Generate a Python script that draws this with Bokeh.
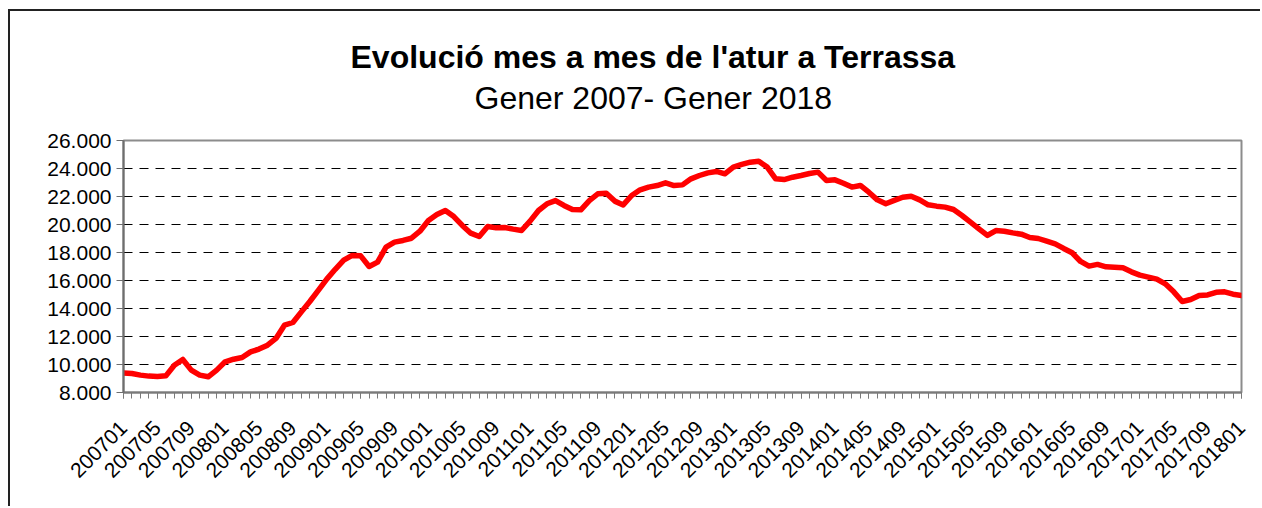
from bokeh.plotting import figure
from bokeh.models import Range1d, FixedTicker, Title
from bokeh.embed import file_html
from bokeh.resources import INLINE

# ---- data -------------------------------------------------------------
title_text = "Evolució mes a mes de l'atur a Terrassa"
subtitle_text = "Gener 2007- Gener 2018"

# monthly registered unemployment, Jan 2007 .. Jan 2018 (133 months)
aturats = [
    9400, 9360, 9240, 9170, 9140, 9190, 9950, 10360, 9600, 9240, 9120, 9600,
    10190, 10380, 10500, 10900, 11100, 11380, 11860, 12810, 13000, 13760, 14500, 15300,
    16100, 16800, 17450, 17790, 17760, 17000, 17310, 18380, 18740, 18860, 19020, 19520,
    20290, 20710, 21000, 20570, 19930, 19380, 19140, 19860, 19760, 19790, 19670, 19570,
    20240, 21000, 21480, 21710, 21360, 21070, 21050, 21710, 22190, 22240, 21670, 21400,
    22070, 22480, 22670, 22780, 22980, 22780, 22830, 23260, 23500, 23690, 23790, 23620,
    24100, 24290, 24450, 24520, 24100, 23260, 23210, 23380, 23500, 23640, 23740, 23140,
    23190, 22950, 22670, 22790, 22310, 21760, 21480, 21720, 21950, 22020, 21760, 21410,
    21310, 21240, 21070, 20640, 20170, 19690, 19220, 19570, 19520, 19400, 19310, 19070,
    19000, 18810, 18620, 18290, 17980, 17360, 17030, 17150, 16980, 16950, 16910, 16620,
    16380, 16240, 16100, 15760, 15190, 14500, 14640, 14930, 14970, 15160, 15190, 15020,
    14930,
]

x_tick_labels = [
    "200701", "200705", "200709", "200801", "200805", "200809", "200901", "200905",
    "200909", "201001", "201005", "201009", "201101", "201105", "201109", "201201",
    "201205", "201209", "201301", "201305", "201309", "201401", "201405", "201409",
    "201501", "201505", "201509", "201601", "201605", "201609", "201701", "201705",
    "201709", "201801",
]
label_step = 4  # one label every 4 months

y_ticks = [8000, 10000, 12000, 14000, 16000, 18000, 20000, 22000, 24000, 26000]
y_tick_labels = ["8.000", "10.000", "12.000", "14.000", "16.000", "18.000",
                 "20.000", "22.000", "24.000", "26.000"]

# ---- figure -----------------------------------------------------------
n = len(aturats)
xs = list(range(n))

p = figure(
    width=1252, height=497,
    output_backend="svg", toolbar_location=None,
    x_range=Range1d(0, n - 1), y_range=Range1d(y_ticks[0], y_ticks[-1]),
    min_border_left=113, min_border_right=21, min_border_top=129, min_border_bottom=116,
    background_fill_color="white", border_fill_color="white",
)
p.title.visible = False
p.styles = {"margin-left": "8px", "margin-top": "9px",
            "border-top": "2px solid #222222", "border-left": "2px solid #222222"}

p.outline_line_color = "#8c8c8c"
p.outline_line_width = 2

FONT = "Liberation Sans"

# x axis: tick marks every month, labels every 4 months
major_x = list(range(0, n, label_step))
p.xaxis.ticker = FixedTicker(ticks=major_x, minor_ticks=xs)
p.xaxis.major_label_overrides = {t: lab for t, lab in zip(major_x, x_tick_labels)}
p.xaxis.major_label_orientation = 0.785398
p.xaxis.major_label_text_font = FONT
p.xaxis.major_label_text_font_size = "21px"
p.xaxis.major_label_text_color = "black"
p.xaxis.major_label_standoff = 26
p.xaxis.axis_line_color = "#7a7a7a"
p.xaxis.axis_line_width = 2
p.xaxis.major_tick_line_color = "#7a7a7a"
p.xaxis.minor_tick_line_color = "#7a7a7a"
p.xaxis.major_tick_in = 0
p.xaxis.major_tick_out = 6
p.xaxis.minor_tick_in = 0
p.xaxis.minor_tick_out = 6

# y axis
p.yaxis.ticker = FixedTicker(ticks=y_ticks)
p.yaxis.major_label_overrides = {t: lab for t, lab in zip(y_ticks, y_tick_labels)}
p.yaxis.major_label_text_font = FONT
p.yaxis.major_label_text_font_size = "21px"
p.yaxis.major_label_text_color = "black"
p.yaxis.major_label_standoff = 5
p.yaxis.axis_line_color = "#6e6e6e"
p.yaxis.axis_line_width = 2
p.yaxis.major_tick_line_color = "#6e6e6e"
p.yaxis.major_tick_in = 0
p.yaxis.major_tick_out = 7
p.yaxis.minor_tick_line_color = None

# grid
p.xgrid.grid_line_color = None
p.ygrid.ticker = FixedTicker(ticks=y_ticks[1:-1])
p.ygrid.grid_line_color = "black"
p.ygrid.grid_line_width = 1
p.ygrid.grid_line_dash = "9 7"

# series
p.line(xs, aturats, line_color="#ff0000", line_width=5.5,
       line_join="round", line_cap="round")

# titles: subtitle first (closest to the frame), then the main title
p.add_layout(Title(text=subtitle_text, align="left", offset=351, standoff=50,
                   text_font=FONT, text_font_size="32px", text_font_style="normal",
                   text_color="black"), "above")
p.add_layout(Title(text=title_text, align="left", offset=227, standoff=-44,
                   text_font=FONT, text_font_size="32px", text_font_style="bold",
                   text_color="black"), "above")

open("out.html", "w").write(file_html(p, INLINE))
